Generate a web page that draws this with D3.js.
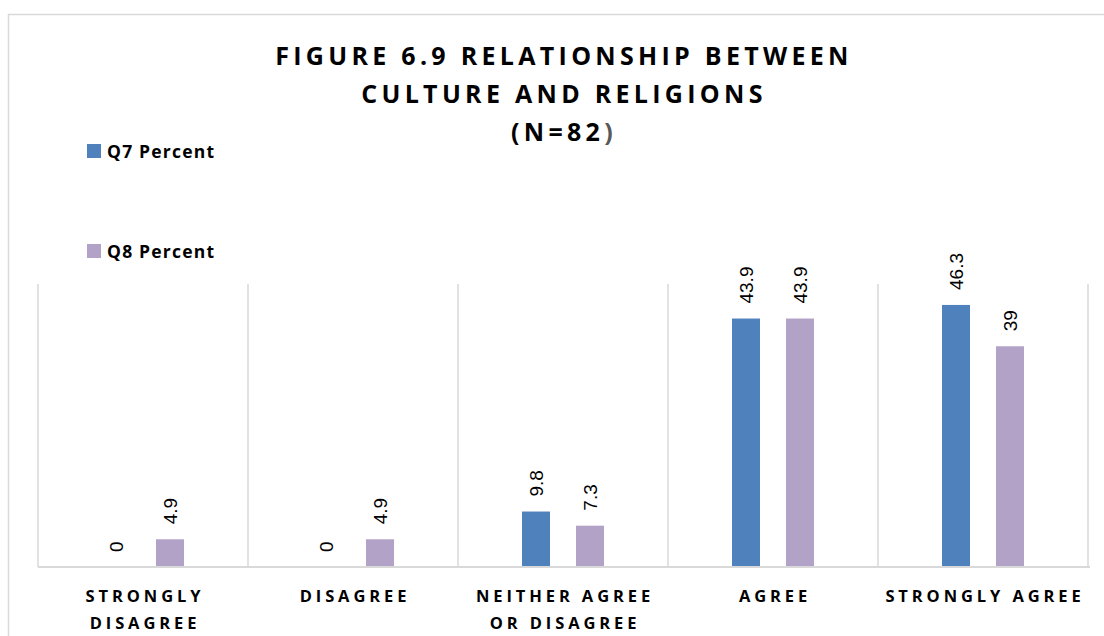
<!DOCTYPE html>
<html>
<head>
<meta charset="utf-8">
<script src="https://cdn.jsdelivr.net/npm/d3@7"></script>
<style>
  html, body { margin: 0; padding: 0; background: #fff; }
  svg { display: block; }
</style>
</head>
<body>
<svg id="chart" width="1104" height="636"></svg>
<script>
// Survey responses, percent of N=82
const categories = ["STRONGLY DISAGREE", "DISAGREE", "NEITHER AGREE OR DISAGREE", "AGREE", "STRONGLY AGREE"];
const categoryLines = [["STRONGLY", "DISAGREE"], ["DISAGREE"], ["NEITHER AGREE", "OR DISAGREE"], ["AGREE"], ["STRONGLY AGREE"]];
const seriesNames = ["Q7 Percent", "Q8 Percent"];
const q7Values = [0, 0, 9.8, 43.9, 46.3];
const q8Values = [4.9, 4.9, 7.3, 43.9, 39];
const titleLines = ["FIGURE 6.9 RELATIONSHIP BETWEEN", "CULTURE AND RELIGIONS", "(N=82"];
const colors = ["#4f81bd", "#b2a2c7"];

const svg = d3.select("#chart");
const font = "'Open Sans', 'Liberation Sans', sans-serif";
const labelFont = "'Liberation Sans', Arial, sans-serif";

// chart frame
svg.append("rect")
  .attr("x", 8.5).attr("y", 14.5)
  .attr("width", 1110).attr("height", 640)
  .attr("fill", "#fff").attr("stroke", "#d9d9d9").attr("stroke-width", 1.5);

const plot = { left: 38, right: 1088, top: 284, bottom: 567 };

const x0 = d3.scaleBand().domain(categories).range([plot.left, plot.right]).paddingInner(0).paddingOuter(0);
const x1 = d3.scaleBand().domain(seriesNames).range([64, 146]).paddingInner(26 / 54).paddingOuter(0);
const y = d3.scaleLinear().domain([0, 50]).range([plot.bottom, plot.top]);

// vertical category dividers
const dividers = categories.map(c => x0(c)).concat([plot.right]);
svg.append("g").selectAll("line").data(dividers).join("line")
  .attr("x1", d => d).attr("x2", d => d)
  .attr("y1", plot.top).attr("y2", plot.bottom)
  .attr("stroke", "#d9d9d9").attr("stroke-width", 1.5);

const rows = categories.map((c, i) => ({ cat: c, values: [q7Values[i], q8Values[i]] }));

const groups = svg.append("g").selectAll("g").data(rows).join("g")
  .attr("transform", d => `translate(${x0(d.cat)},0)`);

groups.selectAll("rect").data(d => d.values.map((v, j) => ({ s: seriesNames[j], v, j }))).join("rect")
  .attr("x", d => x1(d.s))
  .attr("y", d => y(d.v))
  .attr("width", x1.bandwidth())
  .attr("height", d => y(0) - y(d.v))
  .attr("fill", d => colors[d.j]);

// rotated value labels
groups.selectAll("text").data(d => d.values.map((v, j) => ({ s: seriesNames[j], v, j }))).join("text")
  .attr("transform", d => `translate(${x1(d.s) + x1.bandwidth() / 2 + 7},${y(d.v) - 15}) rotate(-90)`)
  .attr("font-family", labelFont).attr("font-size", 19).attr("fill", "#000")
  .text(d => String(d.v));

// baseline
svg.append("line")
  .attr("x1", plot.left).attr("x2", plot.right + 2)
  .attr("y1", plot.bottom).attr("y2", plot.bottom)
  .attr("stroke", "#d9d9d9").attr("stroke-width", 2);

// category labels
const xLab = svg.append("g").selectAll("text").data(categories).join("text")
  .attr("y", 602)
  .attr("text-anchor", "middle")
  .attr("font-family", font).attr("font-weight", 700).attr("font-size", 16.5)
  .attr("letter-spacing", 3.9)
  .attr("fill", "#000");
xLab.each(function(d, i) {
  const t = d3.select(this);
  categoryLines[i].forEach((ln, k) => {
    t.append("tspan").attr("x", x0(d) + x0.bandwidth() / 2 + 2).attr("dy", k === 0 ? 0 : 27).text(ln);
  });
});

// title
const title = svg.append("text")
  .attr("text-anchor", "middle")
  .attr("font-family", font).attr("font-weight", 700).attr("font-size", 25)
  .attr("letter-spacing", 4.3).attr("fill", "#000");
titleLines.forEach((ln, k) => {
  title.append("tspan").attr("x", 564).attr("y", 65 + k * 38).text(ln);
  if (k === titleLines.length - 1) {
    title.append("tspan").attr("fill", "#595959").text(")");
  }
});

// legend
const legend = svg.append("g").selectAll("g").data(seriesNames).join("g")
  .attr("transform", (d, i) => `translate(87,${144 + i * 100})`);
legend.append("rect").attr("width", 14).attr("height", 14).attr("fill", (d, i) => colors[i]);
legend.append("text")
  .attr("x", 20).attr("y", 14)
  .attr("font-family", font).attr("font-weight", 700).attr("font-size", 17.5)
  .attr("letter-spacing", 1.2)
  .attr("fill", "#000")
  .text(d => d);
</script>
</body>
</html>
